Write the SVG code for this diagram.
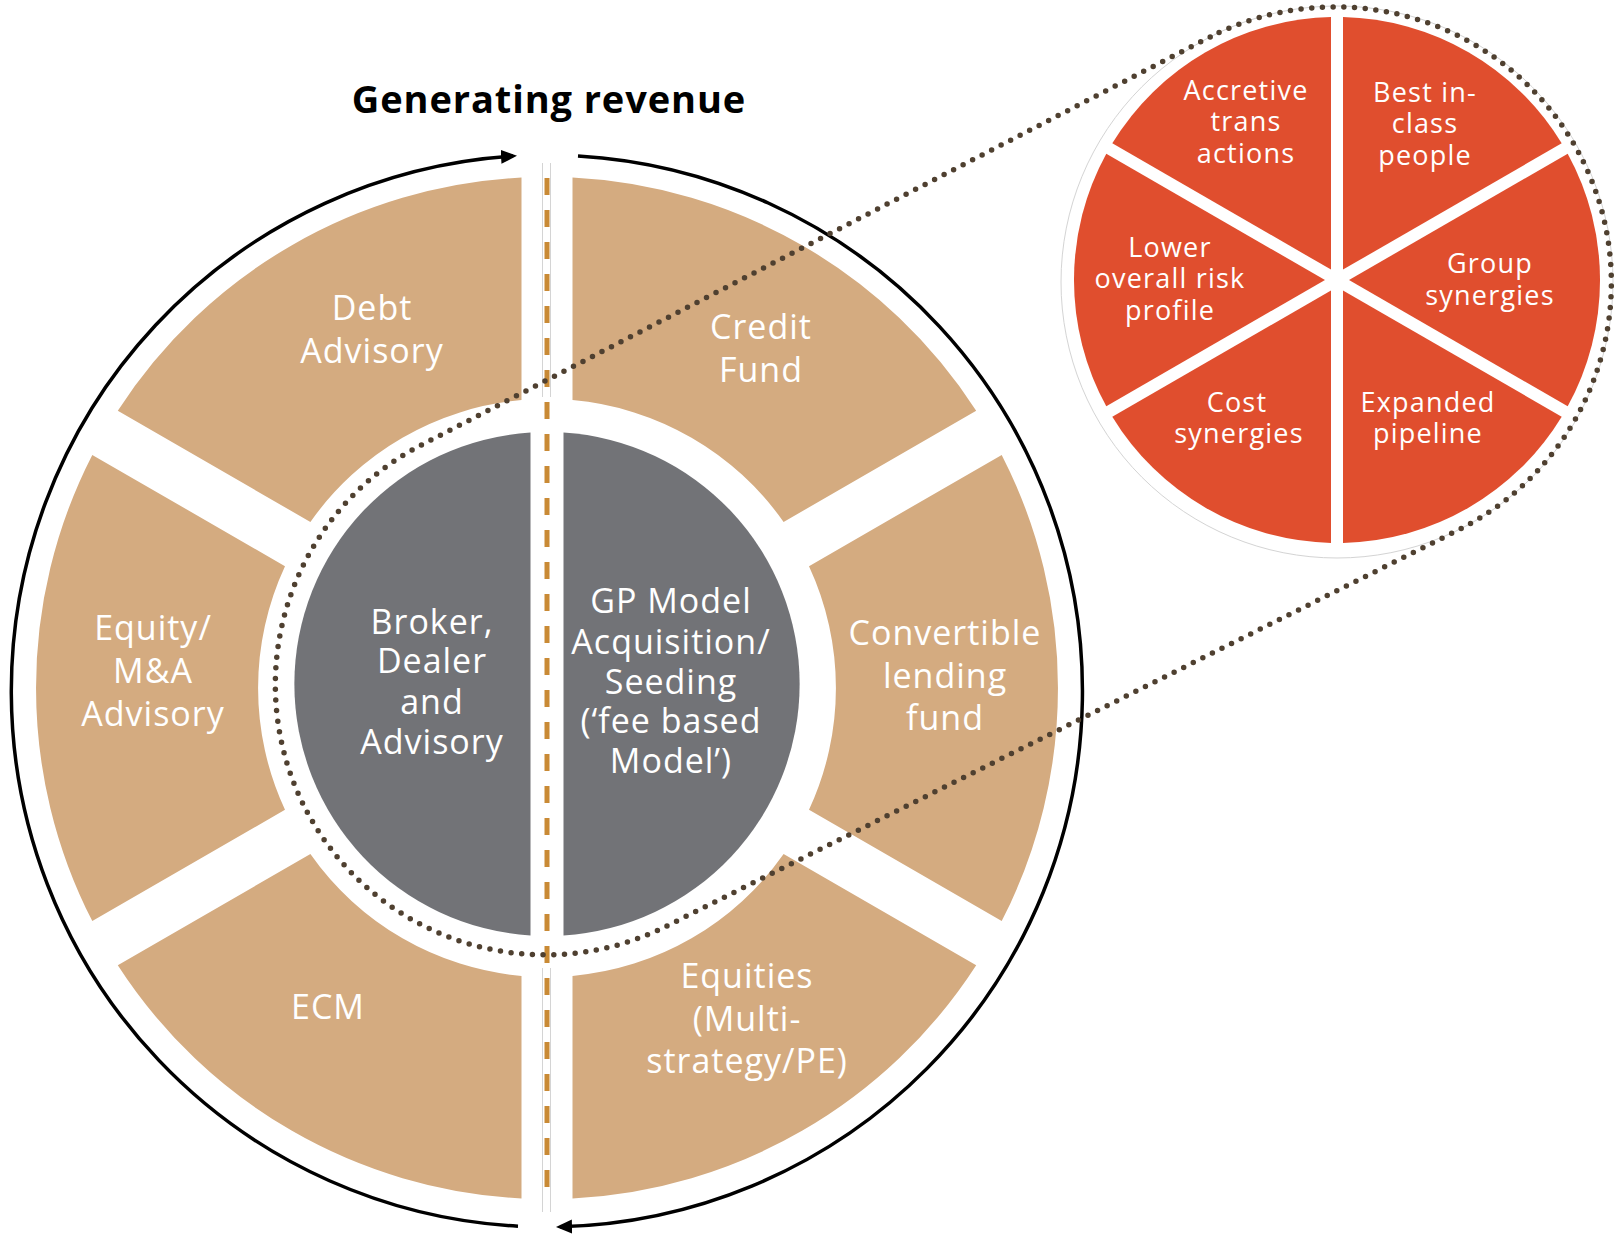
<svg xmlns="http://www.w3.org/2000/svg" width="1619" height="1240" viewBox="0 0 1619 1240">
<defs>
<style>
.seg{fill:#D4AB80}
.core{fill:#727377}
.pie{fill:#E04E2E}
.lbl{font-family:"Open Sans","DejaVu Sans",sans-serif;font-size:34px;fill:#fff;text-anchor:middle;letter-spacing:1px}
.sm{font-size:27px;letter-spacing:1.2px}
.title{font-family:"Open Sans","DejaVu Sans",sans-serif;font-weight:700;font-size:38px;fill:#000;text-anchor:middle;letter-spacing:0.9px}
.dots{fill:none;stroke:#4F4030;stroke-width:5.5;stroke-linecap:round;stroke-dasharray:0 10.7}
.flow{fill:none;stroke:#000;stroke-width:3.5}
.hair{fill:none;stroke:#d4d4d4;stroke-width:1}
</style>
<marker id="ah" viewBox="0 0 16 14" refX="12" refY="7" markerWidth="16" markerHeight="14" orient="auto" markerUnits="userSpaceOnUse">
<path d="M0,0 L16,7 L0,14 Z" fill="#000"/>
</marker>
</defs>
<rect width="1619" height="1240" fill="#fff"/>

<text class="title" x="549" y="113">Generating revenue</text>

<g id="credit-fund">
<path class="seg" d="M976.2 410.7 A511 511 0 0 0 572.5 177.6 L572.5 400.1 A289 289 0 0 1 783.6 522 Z"/>
<text class="lbl" x="761" y="339">Credit<tspan x="761" dy="43">Fund</tspan></text>
</g>
<g id="debt-advisory">
<path class="seg" d="M521.5 177.6 A511 511 0 0 0 117.8 410.7 L310.4 522 A289 289 0 0 1 521.5 400.1 Z"/>
<text class="lbl" x="372" y="320">Debt<tspan x="372" dy="43">Advisory</tspan></text>
</g>
<g id="equity-ma-advisory">
<path class="seg" d="M92.3 454.9 A511 511 0 0 0 92.3 921.1 L285 809.8 A289 289 0 0 1 285 566.2 Z"/>
<text class="lbl" x="153" y="640">Equity/<tspan x="153" dy="43">M&amp;A</tspan><tspan x="153" dy="43">Advisory</tspan></text>
</g>
<g id="ecm">
<path class="seg" d="M117.8 965.3 A511 511 0 0 0 521.5 1198.4 L521.5 975.9 A289 289 0 0 1 310.4 854 Z"/>
<text class="lbl" x="328" y="1019">ECM</text>
</g>
<g id="equities">
<path class="seg" d="M572.5 1198.4 A511 511 0 0 0 976.2 965.3 L783.6 854 A289 289 0 0 1 572.5 975.9 Z"/>
<text class="lbl" x="747" y="988">Equities<tspan x="747" dy="43">(Multi-</tspan><tspan x="747" dy="42">strategy/PE)</tspan></text>
</g>
<g id="convertible-lending-fund">
<path class="seg" d="M1001.7 921.1 A511 511 0 0 0 1001.7 454.9 L809 566.2 A289 289 0 0 1 809 809.8 Z"/>
<text class="lbl" x="945" y="645">Convertible<tspan x="945" dy="43">lending</tspan><tspan x="945" dy="42">fund</tspan></text>
</g>

<g id="broker-dealer">
<path class="core" d="M530.5 432.5 A252 252 0 0 0 530.5 935.5 Z"/>
<text class="lbl" x="432" y="634">Broker,<tspan x="432" dy="39">Dealer</tspan><tspan x="432" dy="41">and</tspan><tspan x="432" dy="40">Advisory</tspan></text>
</g>
<g id="gp-model">
<path class="core" d="M563.5 432.5 A252 252 0 0 1 563.5 935.5 Z"/>
<text class="lbl" x="671" y="613">GP Model<tspan x="671" dy="41">Acquisition/</tspan><tspan x="671" dy="40">Seeding</tspan><tspan x="671" dy="39">(‘fee based</tspan><tspan x="671" dy="40">Model’)</tspan></text>
</g>

<g id="divider">
<line class="hair" x1="542.5" y1="163" x2="542.5" y2="397"/>
<line class="hair" x1="550.5" y1="163" x2="550.5" y2="397"/>
<line class="hair" x1="542.5" y1="968" x2="542.5" y2="1212"/>
<line class="hair" x1="550.5" y1="968" x2="550.5" y2="1212"/>
<line x1="547" y1="178" x2="547" y2="1190" stroke="#C98A35" stroke-width="5" stroke-dasharray="17 15"/>
</g>

<g id="synergy-pie">
<circle class="hair" cx="1337" cy="282" r="276"/>
<g id="best-in-class">
<path class="pie" d="M1343 269.6 L1561.7 143.3 A263 263 0 0 0 1343 17.1 Z"/>
<text class="lbl sm" x="1425" y="102">Best in-<tspan x="1425" dy="31">class</tspan><tspan x="1425" dy="32">people</tspan></text>
</g>
<g id="accretive">
<path class="pie" d="M1331 269.6 L1331 17.1 A263 263 0 0 0 1112.3 143.3 Z"/>
<text class="lbl sm" x="1246" y="100">Accretive<tspan x="1246" dy="31">trans</tspan><tspan x="1246" dy="32">actions</tspan></text>
</g>
<g id="lower-risk">
<path class="pie" d="M1325 280 L1106.3 153.7 A263 263 0 0 0 1106.3 406.3 Z"/>
<text class="lbl sm" x="1170" y="257">Lower<tspan x="1170" dy="31">overall risk</tspan><tspan x="1170" dy="32">profile</tspan></text>
</g>
<g id="cost-synergies">
<path class="pie" d="M1331 290.4 L1112.3 416.7 A263 263 0 0 0 1331 542.9 Z"/>
<text class="lbl sm" x="1237" y="412">Cost<tspan x="1239" dy="31">synergies</tspan></text>
</g>
<g id="expanded-pipeline">
<path class="pie" d="M1343 290.4 L1343 542.9 A263 263 0 0 0 1561.7 416.7 Z"/>
<text class="lbl sm" x="1428" y="412">Expanded<tspan x="1428" dy="31">pipeline</tspan></text>
</g>
<g id="group-synergies">
<path class="pie" d="M1349 280 L1567.7 406.3 A263 263 0 0 0 1567.7 153.7 Z"/>
<text class="lbl sm" x="1490" y="273">Group<tspan x="1490" dy="32">synergies</tspan></text>
</g>
</g>

<g id="connectors">
<path class="flow" marker-end="url(#ah)" d="M518 1226.2 A536 536 0 0 1 513 156.1"/>
<path class="flow" marker-end="url(#ah)" d="M578 155.9 A536 536 0 0 1 560 1226.8"/>
<path class="dots" d="M1210.2 36.9 L422.9 444.2 A270 270 0 0 0 667.8 925.5 L1460.5 528.9 A276 276 0 1 0 1210.2 36.9"/>
</g>
</svg>
